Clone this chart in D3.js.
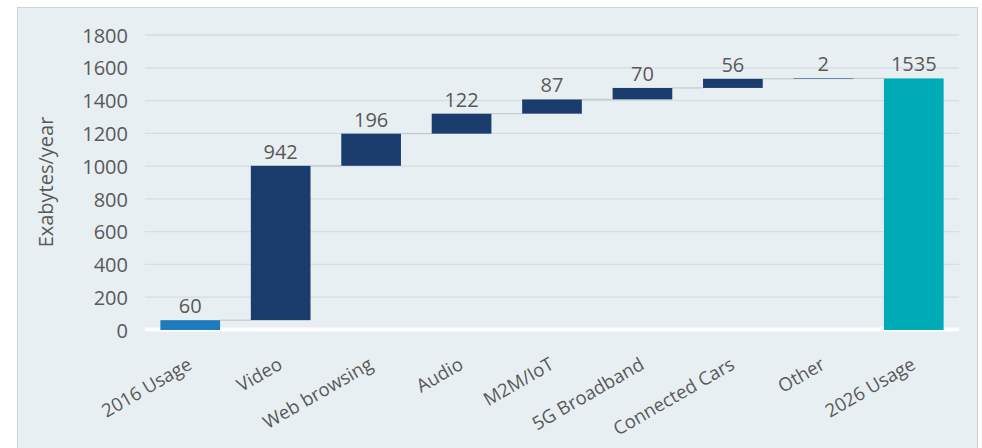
<!DOCTYPE html>
<html>
<head>
<meta charset="utf-8">
<script src="https://cdn.jsdelivr.net/npm/d3@7"></script>
<style>
  html, body { margin: 0; padding: 0; background: #ffffff; }
  svg { display: block; }
  svg text { font-family: "Open Sans", "Noto Sans", sans-serif; }
</style>
</head>
<body>
<svg id="chart" width="982" height="448"></svg>
<script>
// Mobile data usage growth, 2016 to 2026 (exabytes per year)
const categories = ["2016 Usage", "Video", "Web browsing", "Audio", "M2M/IoT",
                    "5G Broadband", "Connected Cars", "Other", "2026 Usage"];
const values = [60, 942, 196, 122, 87, 70, 56, 2, 1535];
const kinds = ["start", "step", "step", "step", "step", "step", "step", "step", "total"];
const yTicks = [0, 200, 400, 600, 800, 1000, 1200, 1400, 1600, 1800];
const yTitle = "Exabytes/year";

const colors = { start: "#1f7bbd", step: "#1b3d6d", total: "#00abb8" };

const W = 982, H = 448;
const margin = { left: 145, right: 23 };
const svg = d3.select("#chart");

// panel background
svg.append("rect")
  .attr("x", 17.5).attr("y", 7.5)
  .attr("width", 960).attr("height", H)
  .attr("fill", "#e8eff2")
  .attr("stroke", "#cdd5d9").attr("stroke-width", 1);

// running totals for the waterfall
let run = 0;
const bars = categories.map((c, i) => {
  let lo, hi;
  if (kinds[i] === "start" || kinds[i] === "total") { lo = 0; hi = values[i]; }
  else { lo = run; hi = run + values[i]; }
  run = hi;
  return { cat: c, value: values[i], kind: kinds[i], lo, hi };
});

const x = d3.scaleBand()
  .domain(categories)
  .range([margin.left, W - margin.right])
  .paddingInner(0.34).paddingOuter(0.17);

const y = d3.scaleLinear()
  .domain([0, 1800])
  .range([330, 35]);

// gridlines
svg.append("g")
  .selectAll("line")
  .data(yTicks.filter(t => t > 0))
  .join("line")
  .attr("x1", margin.left).attr("x2", W - margin.right)
  .attr("y1", d => y(d)).attr("y2", d => y(d))
  .attr("stroke", "#d5dde1").attr("stroke-width", 1.3);

// baseline
svg.append("line")
  .attr("x1", margin.left).attr("x2", W - margin.right)
  .attr("y1", y(0) - 0.5).attr("y2", y(0) - 0.5)
  .attr("stroke", "#ffffff").attr("stroke-width", 4);

// y axis tick labels
const yAxis = d3.axisLeft(y).tickValues(yTicks).tickFormat(d3.format("d"))
  .tickSize(0).tickPadding(0);
const gy = svg.append("g")
  .attr("transform", `translate(${margin.left - 17},0)`)
  .call(yAxis);
gy.attr("font-family", null).attr("font-size", null);
gy.select(".domain").remove();
gy.selectAll("text")
  .attr("fill", "#595959")
  .style("font-size", "20px")
  .attr("dy", "0.36em");

// y axis title
svg.append("text")
  .attr("transform", `translate(53,182) rotate(-90)`)
  .attr("text-anchor", "middle")
  .attr("fill", "#595959")
  .style("font-size", "20px")
  .text(yTitle);

// connector lines between bars
svg.append("g")
  .selectAll("line")
  .data(bars.slice(0, -1))
  .join("line")
  .attr("x1", d => x(d.cat) + x.bandwidth())
  .attr("x2", (d, i) => x(categories[i + 1]))
  .attr("y1", d => y(d.hi)).attr("y2", d => y(d.hi))
  .attr("stroke", "#c3c9cc").attr("stroke-width", 1.2);

// bars
svg.append("g")
  .selectAll("rect")
  .data(bars)
  .join("rect")
  .attr("x", d => x(d.cat))
  .attr("width", x.bandwidth())
  .attr("y", d => y(d.hi))
  .attr("height", d => Math.max(y(d.lo) - y(d.hi), 0.6))
  .attr("fill", d => colors[d.kind]);

// value labels
svg.append("g")
  .selectAll("text")
  .data(bars)
  .join("text")
  .attr("x", d => x(d.cat) + x.bandwidth() / 2)
  .attr("y", d => y(d.hi) - 7)
  .attr("text-anchor", "middle")
  .attr("fill", "#595959")
  .style("font-size", "20px")
  .text(d => d.value);

// category labels
const xAxis = d3.axisBottom(x).tickSize(0).tickPadding(0);
const gx = svg.append("g")
  .attr("transform", `translate(0,${y(0)})`)
  .call(xAxis);
gx.attr("font-family", null).attr("font-size", null);
gx.select(".domain").remove();
gx.selectAll("text")
  .attr("fill", "#595959")
  .style("font-size", "18.5px")
  .attr("text-anchor", "end")
  .attr("x", 0).attr("y", 0).attr("dy", 0)
  .attr("transform", "translate(3,38) rotate(-30)");
</script>
</body>
</html>
